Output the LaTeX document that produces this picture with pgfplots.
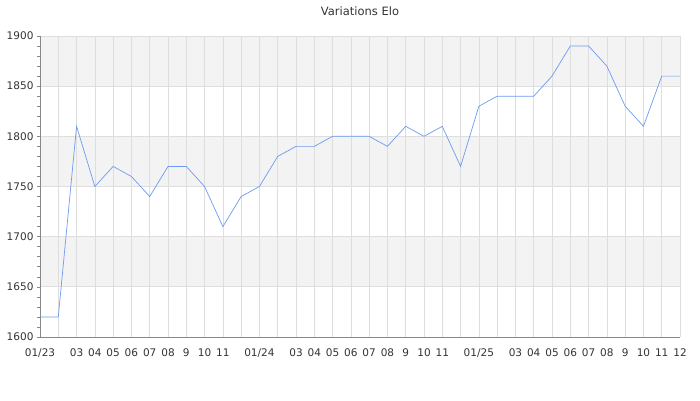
\documentclass[border=0pt]{standalone}
\usepackage{fontspec}
\setmainfont{DejaVu Sans}
\usepackage{pgfplots}
\pgfplotsset{compat=1.18}
\definecolor{band}{HTML}{F3F3F3}
\definecolor{gridc}{HTML}{DEDEDE}
\definecolor{axc}{HTML}{888888}
\definecolor{lineblue}{HTML}{6C9BEF}
\definecolor{txt}{HTML}{333333}

\begin{document}
\begin{tikzpicture}
\begin{axis}[
  set layers,
  at={(0pt,0pt)}, anchor=south west,
  scale only axis,
  width=640pt, height=301pt,
  xmin=0, xmax=35, ymin=1600, ymax=1900,
  axis x line*=bottom, axis y line*=left,
  axis line style={axc, line width=0.8pt},
  xtick={0,...,35},
  xticklabels={01/23,,03,04,05,06,07,08,9,10,11,,01/24,,03,04,05,06,07,08,9,10,11,,01/25,,03,04,05,06,07,08,9,10,11,12},
  x tick style={draw=none},
  ytick={1600,1650,...,1900},
  minor y tick num=4,
  y tick style={axc, line width=0.6pt},
  tick align=outside,
  major tick length=3pt, minor tick length=3pt,
  xmajorgrids, ymajorgrids,
  major grid style={gridc, line width=0.7pt},
  ticklabel style={font=\fontsize{10.5}{12}\selectfont, text=txt},
  yticklabel style={/pgf/number format/.cd, fixed, set thousands separator={}},
  /pgf/number format/assume math mode=true,
  xticklabel style={yshift=-5pt},
  clip=false,
  title={Variations Elo},
  title style={font=\fontsize{11.5}{13}\selectfont, text=txt, anchor=base, inner sep=1pt, yshift=15pt},
]
\addplot[fill=band, draw=none, on layer=axis background] coordinates {(0,1850) (35,1850) (35,1900) (0,1900)} -- cycle;
\addplot[fill=band, draw=none, on layer=axis background] coordinates {(0,1750) (35,1750) (35,1800) (0,1800)} -- cycle;
\addplot[fill=band, draw=none, on layer=axis background] coordinates {(0,1650) (35,1650) (35,1700) (0,1700)} -- cycle;
\addplot[lineblue, line width=0.7pt, mark=none] coordinates {
(0,1620) (1,1620) (2,1810) (3,1750) (4,1770) (5,1760) (6,1740) (7,1770)
(8,1770) (9,1750) (10,1710) (11,1740) (12,1750) (13,1780) (14,1790) (15,1790)
(16,1800) (17,1800) (18,1800) (19,1790) (20,1810) (21,1800) (22,1810) (23,1770)
(24,1830) (25,1840) (26,1840) (27,1840) (28,1860) (29,1890) (30,1890) (31,1870)
(32,1830) (33,1810) (34,1860) (35,1860)
};
\end{axis}
\path (-40pt,-63pt) rectangle (660pt,337pt);
\end{tikzpicture}
\end{document}
